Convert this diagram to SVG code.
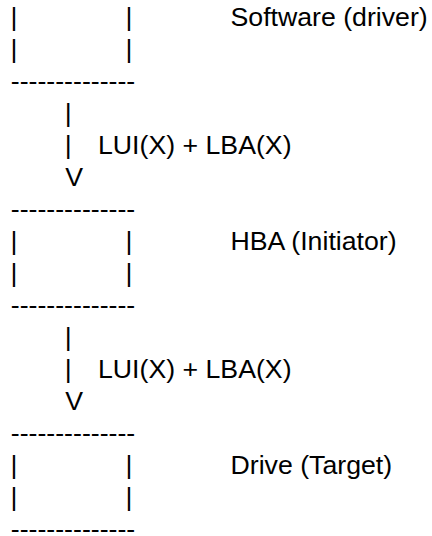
<svg xmlns="http://www.w3.org/2000/svg" width="432" height="536" viewBox="0 0 432 536">
  <style>
    text { font-family: "Liberation Sans", Arial, sans-serif; font-size: 26.7px; fill: #000; }
    .bar { text-anchor: middle; }
  </style>
  <rect width="432" height="536" fill="#fff"/>

  <!-- Software layer -->
  <g id="software">
    <text class="bar" x="14" y="26">|</text>
    <text class="bar" x="129" y="26">|</text>
    <text x="230.5" y="26">Software (driver)</text>
    <text class="bar" x="14" y="58">|</text>
    <text class="bar" x="129" y="58">|</text>
    <text x="10.8" y="90">--------------</text>
  </g>

  <!-- HBA layer -->
  <g id="hba">
    <text x="10.8" y="218">--------------</text>
    <text class="bar" x="14" y="250">|</text>
    <text class="bar" x="129" y="250">|</text>
    <text x="230.5" y="250">HBA (Initiator)</text>
    <text class="bar" x="14" y="282">|</text>
    <text class="bar" x="129" y="282">|</text>
    <text x="10.8" y="314">--------------</text>
  </g>

  <!-- Drive layer -->
  <g id="drive">
    <text x="10.8" y="442">--------------</text>
    <text class="bar" x="14" y="474">|</text>
    <text class="bar" x="129" y="474">|</text>
    <text x="230.5" y="474">Drive (Target)</text>
    <text class="bar" x="14" y="506">|</text>
    <text class="bar" x="129" y="506">|</text>
    <text x="10.8" y="538">--------------</text>
  </g>

  <!-- Downward arrows between layers -->
  <g id="connectors">
    <g id="sw-to-hba">
      <text class="bar" x="68.3" y="122">|</text>
      <text class="bar" x="68.3" y="154">|</text>
      <text x="98" y="154">LUI(X) + LBA(X)</text>
      <text class="bar" x="74.2" y="186">V</text>
    </g>
    <g id="hba-to-drive">
      <text class="bar" x="68.3" y="346">|</text>
      <text class="bar" x="68.3" y="378">|</text>
      <text x="98" y="378">LUI(X) + LBA(X)</text>
      <text class="bar" x="74.2" y="410">V</text>
    </g>
  </g>
</svg>
